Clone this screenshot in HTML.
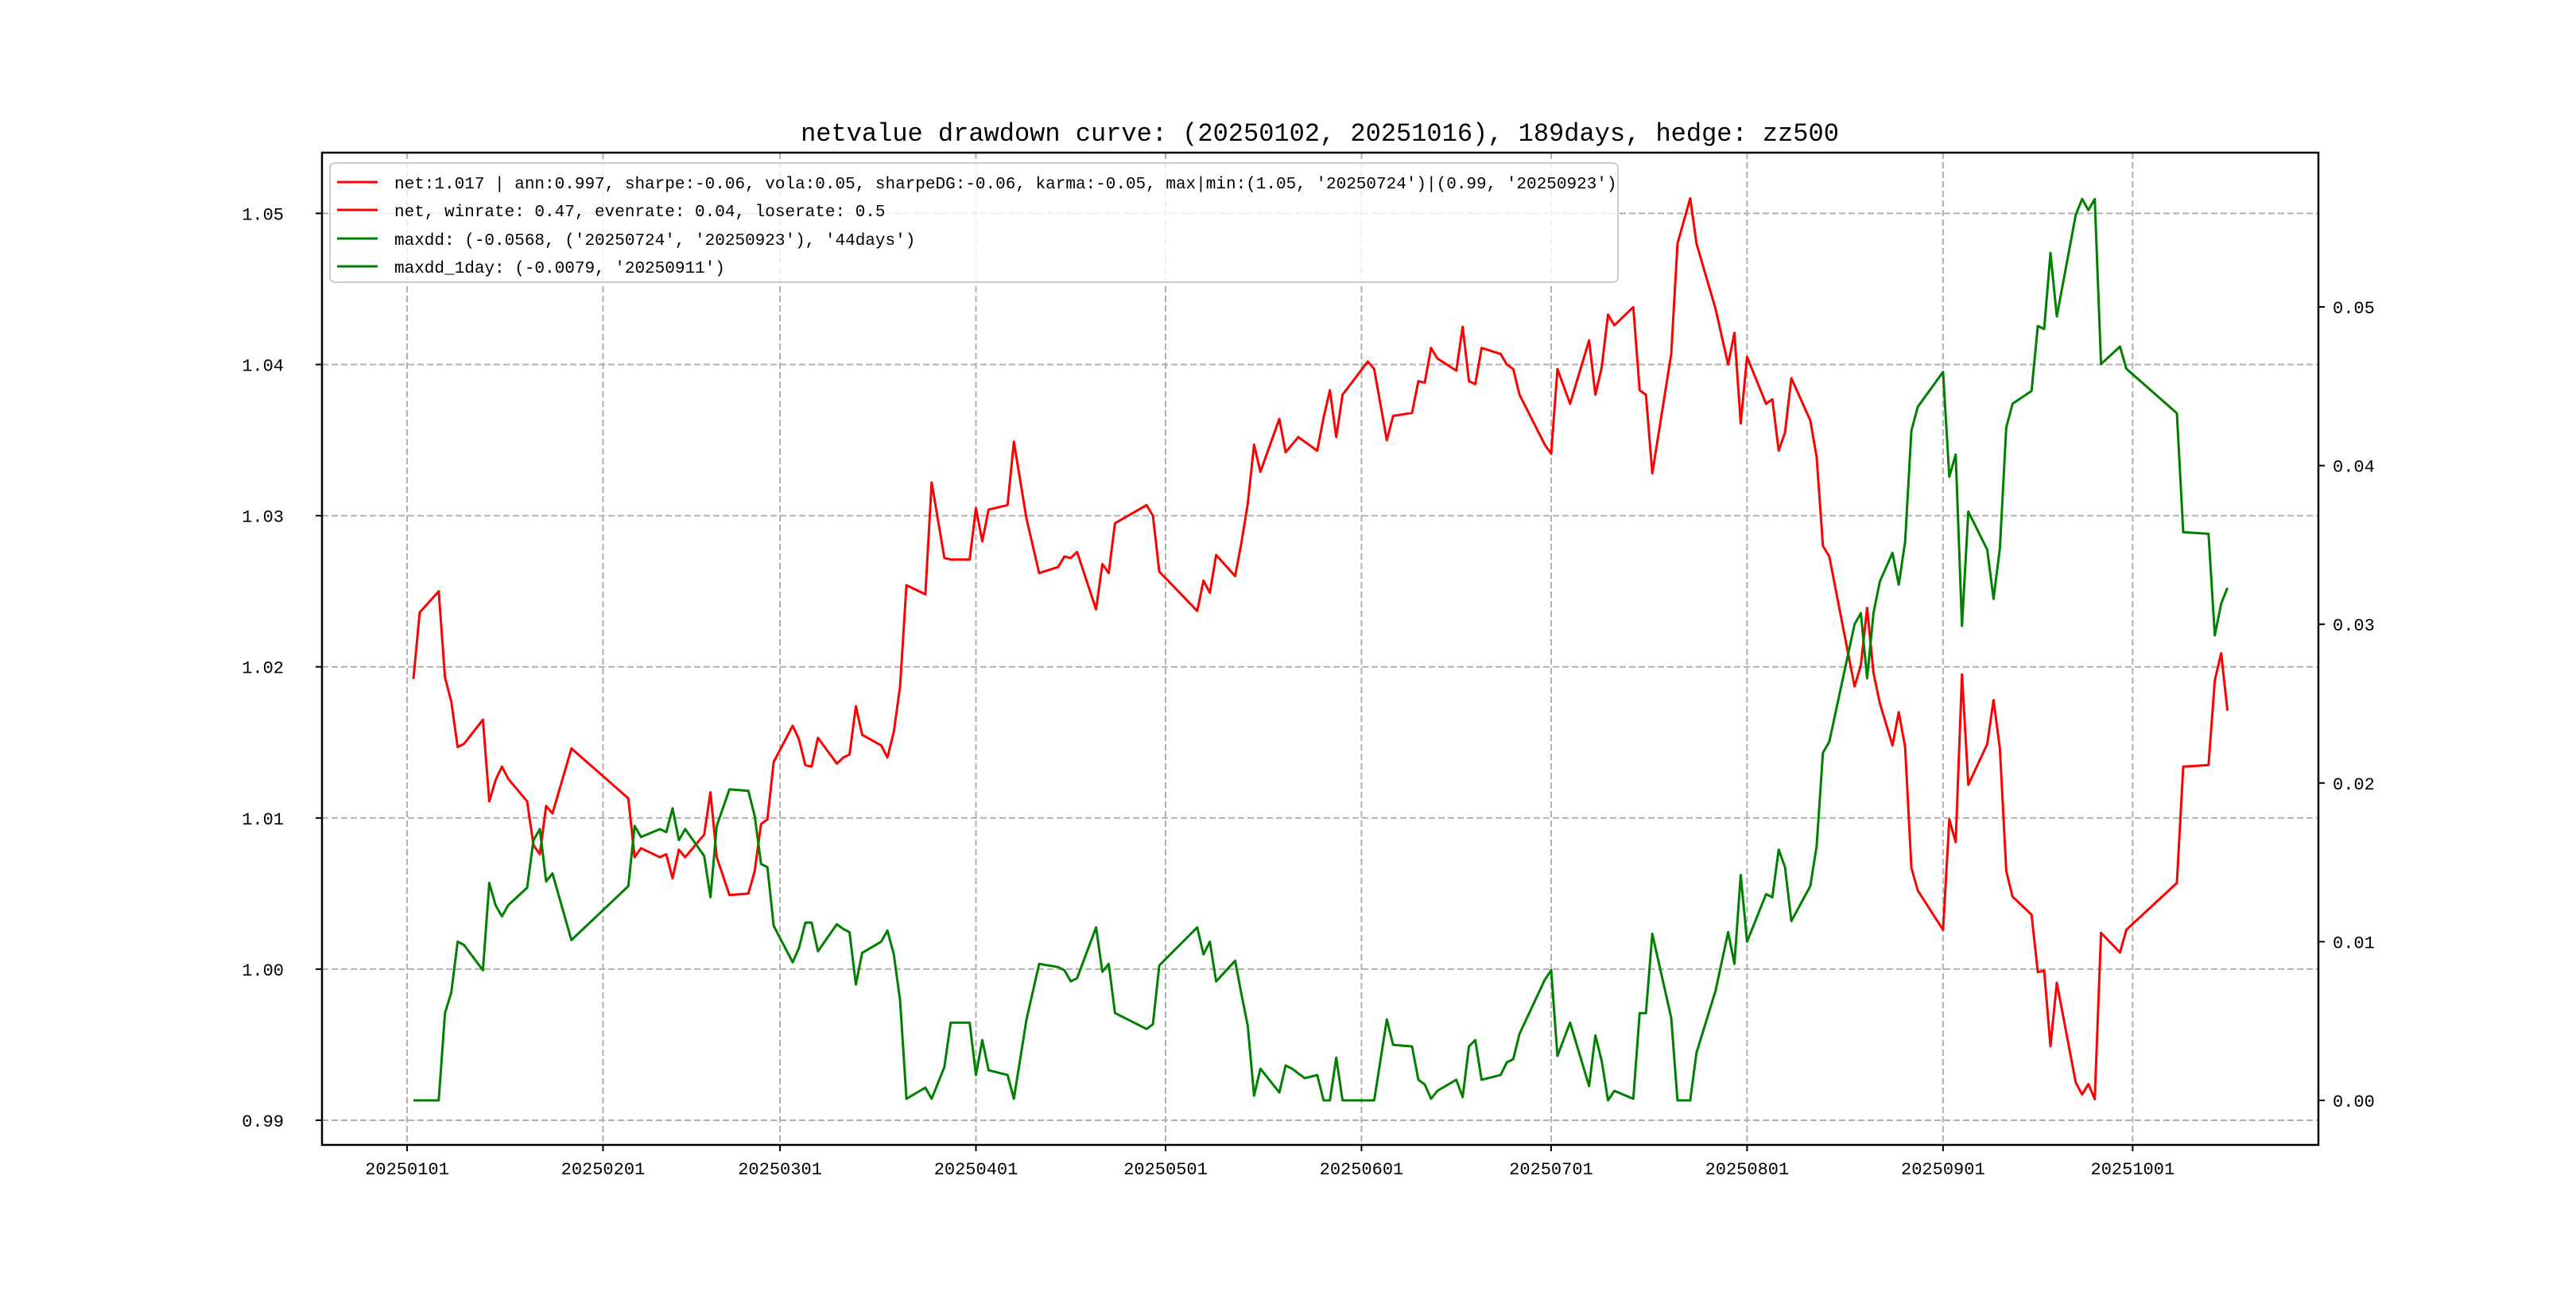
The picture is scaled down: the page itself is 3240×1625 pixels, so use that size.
<!DOCTYPE html>
<html><head><meta charset="utf-8"><style>
html,body{margin:0;padding:0;background:#fff;}
svg text{font-family:"Liberation Mono","Noto Sans CJK SC",monospace;fill:#000;}
</style></head><body>
<svg id="chart" width="3240" height="1620" viewBox="0 0 3240 1620" xmlns="http://www.w3.org/2000/svg">
<rect x="0" y="0" width="3240" height="1620" fill="#fff"/>
<text x="1660" y="177" font-size="32" text-anchor="middle">netvalue drawdown curve: (20250102, 20251016), 189days, hedge: zz500</text>
<g id="grid"></g>
<g id="series"></g>
<rect x="405" y="192" width="2511" height="1248" fill="none" stroke="#000" stroke-width="2.5"/>
<g id="axes"></g>
<g>
<rect x="415" y="205" width="1620" height="150" rx="6" fill="#fff" fill-opacity="0.8" stroke="#ccc" stroke-width="2"/>
<g><line x1="424" y1="229" x2="475" y2="229" stroke="#f00" stroke-width="3"/><text x="496" y="237" font-size="21">net:1.017 | ann:0.997, sharpe:-0.06, vola:0.05, sharpeDG:-0.06, karma:-0.05, max|min:(1.05, '20250724')|(0.99, '20250923')</text></g>
<g><line x1="424" y1="264" x2="475" y2="264" stroke="#f00" stroke-width="3"/><text x="496" y="272" font-size="21">net, winrate: 0.47, evenrate: 0.04, loserate: 0.5</text></g>
<g><line x1="424" y1="300" x2="475" y2="300" stroke="#008000" stroke-width="3"/><text x="496" y="308" font-size="21">maxdd: (-0.0568, ('20250724', '20250923'), '44days')</text></g>
<g><line x1="424" y1="335" x2="475" y2="335" stroke="#008000" stroke-width="3"/><text x="496" y="343" font-size="21">maxdd_1day: (-0.0079, '20250911')</text></g>
</g>
</svg>
<script>
// day offsets from 2025-01-01
const days=[1,2,5,6,7,8,9,12,13,14,15,16,19,20,21,22,23,26,35,36,37,40,41,42,43,44,47,48,49,51,54,55,56,57,58,61,62,63,64,65,68,69,70,71,72,75,76,77,78,79,82,83,85,86,89,90,91,92,95,96,98,100,103,104,105,106,109,110,111,112,117,118,119,125,126,127,128,131,132,133,134,135,138,139,140,141,142,144,145,146,147,148,152,153,155,156,159,160,161,162,163,166,167,168,169,170,173,174,175,176,180,181,182,184,187,188,189,190,191,194,195,196,197,200,201,203,204,207,209,210,211,212,215,216,217,218,219,222,223,224,225,229,230,231,232,233,235,236,237,238,239,243,244,245,246,247,250,251,252,253,254,257,258,259,260,261,264,265,266,267,268,271,272,280,281,285,286,287,288];
const netValues=[1.0192,1.0236,1.0250,1.0193,1.0177,1.0147,1.0149,1.0165,1.0111,1.0125,1.0134,1.0126,1.0111,1.0082,1.0076,1.0108,1.0103,1.0146,1.0113,1.0074,1.0080,1.0074,1.0076,1.0060,1.0079,1.0074,1.0089,1.0117,1.0074,1.0049,1.0050,1.0065,1.0096,1.0099,1.0137,1.0161,1.0152,1.0135,1.0134,1.0153,1.0136,1.0140,1.0142,1.0174,1.0155,1.0148,1.0140,1.0157,1.0187,1.0254,1.0248,1.0322,1.0272,1.0271,1.0271,1.0305,1.0283,1.0304,1.0307,1.0349,1.0298,1.0262,1.0266,1.0273,1.0272,1.0276,1.0238,1.0268,1.0262,1.0295,1.0307,1.0300,1.0263,1.0237,1.0257,1.0249,1.0274,1.0260,1.0282,1.0308,1.0347,1.0329,1.0364,1.0342,1.0347,1.0352,1.0349,1.0343,1.0365,1.0383,1.0352,1.0380,1.0402,1.0397,1.0350,1.0366,1.0368,1.0389,1.0388,1.0411,1.0404,1.0396,1.0425,1.0389,1.0387,1.0411,1.0407,1.0400,1.0397,1.0380,1.0347,1.0341,1.0397,1.0374,1.0416,1.0380,1.0398,1.0433,1.0426,1.0438,1.0383,1.0380,1.0328,1.0407,1.0480,1.0510,1.0480,1.0437,1.0400,1.0421,1.0361,1.0405,1.0374,1.0377,1.0343,1.0355,1.0391,1.0363,1.0339,1.0280,1.0273,1.0187,1.0201,1.0239,1.0196,1.0176,1.0148,1.0170,1.0147,1.0067,1.0052,1.0026,1.0099,1.0084,1.0195,1.0122,1.0149,1.0178,1.0146,1.0065,1.0048,1.0036,0.9998,0.9999,0.9949,0.9991,0.9925,0.9917,0.9924,0.9914,1.0024,1.0011,1.0026,1.0057,1.0134,1.0135,1.0191,1.0209,1.0171];
const ddValues=[0,0,0,0.0055,0.0068,0.0100,0.0098,0.0082,0.0137,0.0123,0.0116,0.0123,0.0134,0.0164,0.0171,0.0138,0.0143,0.0101,0.0135,0.0173,0.0166,0.0171,0.0169,0.0184,0.0164,0.0171,0.0154,0.0128,0.0173,0.0196,0.0195,0.0179,0.0149,0.0147,0.0110,0.0087,0.0096,0.0112,0.0112,0.0094,0.0111,0.0108,0.0106,0.0073,0.0093,0.0100,0.0107,0.0092,0.0063,0.0001,0.0008,0.0001,0.0021,0.0049,0.0049,0.0016,0.0038,0.0019,0.0016,0.0001,0.0051,0.0086,0.0084,0.0082,0.0075,0.0077,0.0109,0.0081,0.0086,0.0055,0.0045,0.0048,0.0085,0.0109,0.0092,0.0100,0.0075,0.0088,0.0067,0.0047,0.0003,0.0020,0.0005,0.0022,0.0020,0.0017,0.0014,0.0016,0,0,0.0027,0,0,0,0.0051,0.0035,0.0034,0.0013,0.0010,0.0001,0.0006,0.0013,0.0002,0.0034,0.0038,0.0013,0.0016,0.0024,0.0026,0.0042,0.0076,0.0082,0.0028,0.0049,0.0009,0.0041,0.0025,0,0.0006,0.0001,0.0055,0.0055,0.0105,0.0052,0,0,0.0030,0.0069,0.0106,0.0086,0.0142,0.0100,0.0130,0.0128,0.0158,0.0147,0.0113,0.0135,0.0160,0.0219,0.0226,0.0300,0.0307,0.0266,0.0307,0.0327,0.0345,0.0325,0.0352,0.0422,0.0437,0.0459,0.0393,0.0407,0.0299,0.0371,0.0347,0.0316,0.0348,0.0424,0.0439,0.0447,0.0488,0.0486,0.0534,0.0494,0.0558,0.0568,0.0561,0.0568,0.0464,0.0475,0.0461,0.0433,0.0358,0.0357,0.0293,0.0313,0.0323];
const xTickLabels=["20250101","20250201","20250301","20250401","20250501","20250601","20250701","20250801","20250901","20251001"];
const xTickDays=[0,31,59,90,120,151,181,212,243,273];
const leftTicks=[0.99,1.00,1.01,1.02,1.03,1.04,1.05];
const rightTicks=[0.00,0.01,0.02,0.03,0.04,0.05];

const NS="http://www.w3.org/2000/svg";
const X0=405,X1=2916,Y0=192,Y1=1440;
function xs(d){return 512+d*7.95;}
function yl(v){return 1409-(v-0.99)*19010;}
function yr(v){return 1384-v*19960;}
function mk(tag,attrs,parent){const e=document.createElementNS(NS,tag);for(const k in attrs)e.setAttribute(k,attrs[k]);parent.appendChild(e);return e;}
const grid=document.getElementById('grid'),axes=document.getElementById('axes'),series=document.getElementById('series');
xTickDays.forEach((d,i)=>{
  const x=xs(d);
  const g=mk('line',{x1:x,y1:Y0,x2:x,y2:Y1,stroke:'#b0b0b0','stroke-width':2,'stroke-dasharray':'8,4'},grid);
  
  
  const t=mk('line',{x1:x,y1:Y1,x2:x,y2:Y1+8,stroke:'#000','stroke-width':2},axes);
  
  
  const l=mk('text',{x:x,y:Y1+37,'font-size':22,'text-anchor':'middle'},axes);
  l.textContent=xTickLabels[i];
  
  
});
leftTicks.forEach(v=>{
  const y=yl(v);
  const g=mk('line',{x1:X0,y1:y,x2:X1,y2:y,stroke:'#b0b0b0','stroke-width':2,'stroke-dasharray':'8,4'},grid);
  
  
  const t=mk('line',{x1:X0-8,y1:y,x2:X0,y2:y,stroke:'#000','stroke-width':2},axes);
  
  
  const l=mk('text',{x:X0-48,y:y+8,'font-size':22,'text-anchor':'end'},axes);
  l.textContent=v.toFixed(2);
  
  
});
rightTicks.forEach(v=>{
  const y=yr(v);
  const t=mk('line',{x1:X1,y1:y,x2:X1+8,y2:y,stroke:'#000','stroke-width':2},axes);
  
  
  const l=mk('text',{x:X1+18,y:y+8,'font-size':22},axes);
  l.textContent=v.toFixed(2);
  
  
});
const n=Math.min(days.length,netValues.length,ddValues.length);
let pn=[],pd=[];
for(let i=0;i<n;i++){pn.push(xs(days[i]).toFixed(1)+','+yl(netValues[i]).toFixed(1));pd.push(xs(days[i]).toFixed(1)+','+yr(ddValues[i]).toFixed(1));}
const lr=mk('polyline',{points:pn.join(' '),fill:'none',stroke:'#f00','stroke-width':3,'stroke-linejoin':'round'},series);


const lg=mk('polyline',{points:pd.join(' '),fill:'none',stroke:'#008000','stroke-width':3,'stroke-linejoin':'round'},series);


</script>
</body></html>
